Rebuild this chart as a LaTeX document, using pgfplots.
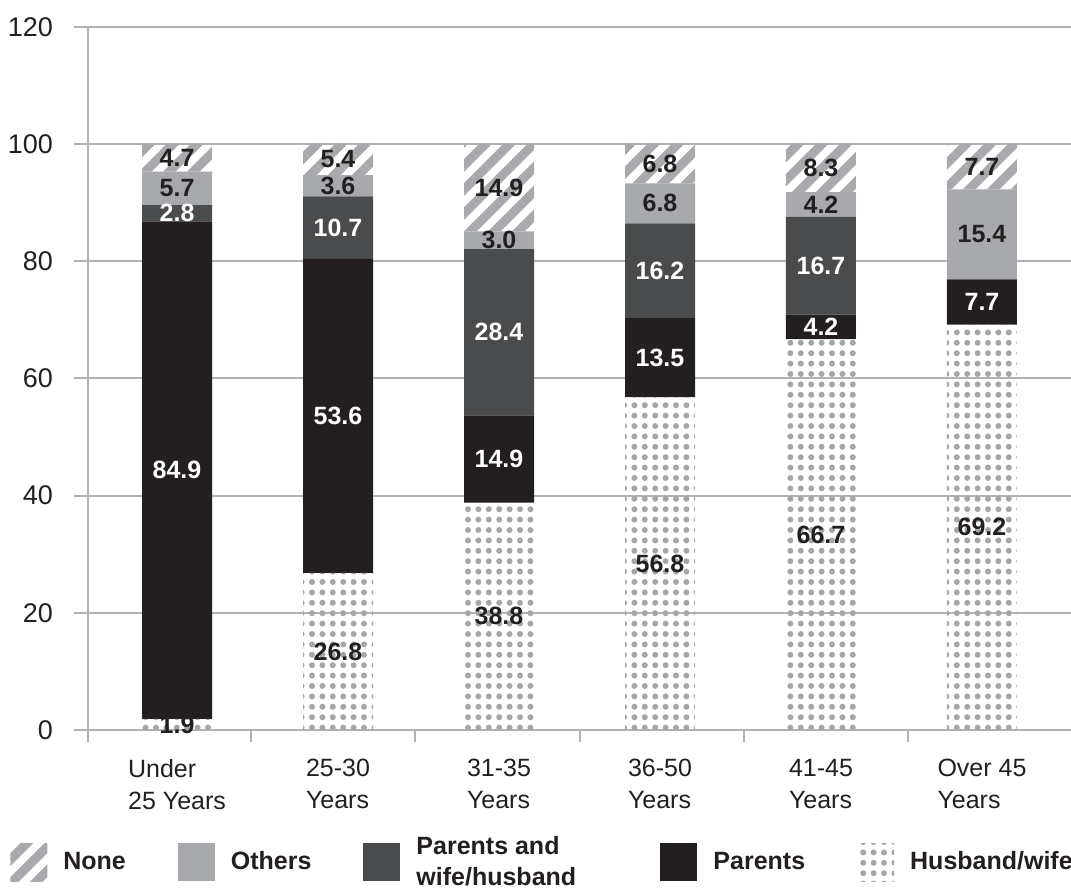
\documentclass[border=0pt]{standalone}
\usepackage{fontspec}
\setmainfont{Liberation Sans}
\usepackage{pgfplots}
\pgfplotsset{compat=1.18}
\usetikzlibrary{patterns.meta}
\definecolor{ink}{RGB}{35,31,32}
\definecolor{gridgray}{RGB}{178,178,178}
\definecolor{lightgray}{RGB}{167,169,172}
\definecolor{darkgray}{RGB}{74,75,77}
\definecolor{dotgray}{RGB}{165,166,169}
\begin{document}
\begin{tikzpicture}
\begin{axis}[
  at={(0pt,0pt)}, anchor=south west,
  scale only axis, width=491.5pt, height=351.5pt,
  ybar stacked, bar width=35pt,
  xmin=-0.553, xmax=5.553, ymin=0, ymax=120,
  ytick={0,20,...,120},
  xtick={0,...,5},
  xticklabels={{Under\\25 Years},{25-30\\Years},{31-35\\Years},{36-50\\Years},{41-45\\Years},{Over 45\\Years}},
  minor xtick={-0.553,0.46,1.48,2.50,3.52,4.54},
  axis lines=left,
  axis line style={-, draw=gridgray, line width=1pt},
  ymajorgrids, grid style={gridgray, line width=1pt},
  tick align=outside,
  major tick length=7pt, minor tick length=6pt,
  major x tick style={draw=none},
  minor x tick style={gridgray, line width=1pt},
  major y tick style={gridgray, line width=1pt},
  tick label style={font=\fontsize{12.5}{16}\selectfont, text=ink},
  yticklabel style={font=\fontsize{13.5}{16}\selectfont, xshift=-7pt},
  /pgf/number format/assume math mode=true,
  xticklabel style={align=left, yshift=-4pt},
  point meta=explicit symbolic,
  nodes near coords={\ifdim\pgfplotspointmeta pt=0pt\else\pgfplotspointmeta\fi},
  every node near coord/.append style={font=\bfseries\fontsize{12.5}{15}\selectfont,
    anchor=center},
  legend columns=5, reverse legend,
  legend style={at={(rel axis cs:0,0)}, anchor=west, xshift=-39pt, yshift=-66pt,
    draw=none, inner sep=0pt, font=\bfseries\fontsize{12.5}{15.5}\selectfont, text=ink,
    cells={align=left},
    /tikz/every even column/.append style={column sep=24pt}},
  legend image code/.code={\fill[#1] (0pt,-9.5pt) rectangle (18.5pt,9.5pt); \path (24.5pt,0pt);},
]
% Husband/wife
\addplot[draw=none, pattern={Dots[distance=5.2pt,radius=1.5pt]}, pattern color=dotgray,
  every node near coord/.append style={text=ink}]
  coordinates {(0,1.9)[1.9] (1,26.8)[26.8] (2,38.8)[38.8] (3,56.8)[56.8] (4,66.7)[66.7] (5,69.2)[69.2]};
% Parents
\addplot[draw=none, fill=ink, every node near coord/.append style={text=white}]
  coordinates {(0,84.9)[84.9] (1,53.6)[53.6] (2,14.9)[14.9] (3,13.5)[13.5] (4,4.2)[4.2] (5,7.7)[7.7]};
% Parents and wife/husband
\addplot[draw=none, fill=darkgray, every node near coord/.append style={text=white}]
  coordinates {(0,2.8)[2.8] (1,10.7)[10.7] (2,28.4)[28.4] (3,16.2)[16.2] (4,16.7)[16.7] (5,0)[0]};
% Others
\addplot[draw=none, fill=lightgray, every node near coord/.append style={text=ink}]
  coordinates {(0,5.7)[5.7] (1,3.6)[3.6] (2,3.0)[3.0] (3,6.8)[6.8] (4,4.2)[4.2] (5,15.4)[15.4]};
% None
\addplot[draw=none, pattern={Lines[angle=45,distance=8.5pt,line width=4.5pt]}, pattern color=lightgray,
  every node near coord/.append style={text=ink}]
  coordinates {(0,4.7)[4.7] (1,5.4)[5.4] (2,14.9)[14.9] (3,6.8)[6.8] (4,8.3)[8.3] (5,7.7)[7.7]};
\legend{Husband/wife,Parents,{Parents and\\\makebox[96pt][l]{wife/husband}},Others,None}
\end{axis}
\pgfresetboundingbox
\useasboundingbox (-44pt,-82pt) rectangle (491.5pt,365pt);
\end{tikzpicture}
\end{document}
